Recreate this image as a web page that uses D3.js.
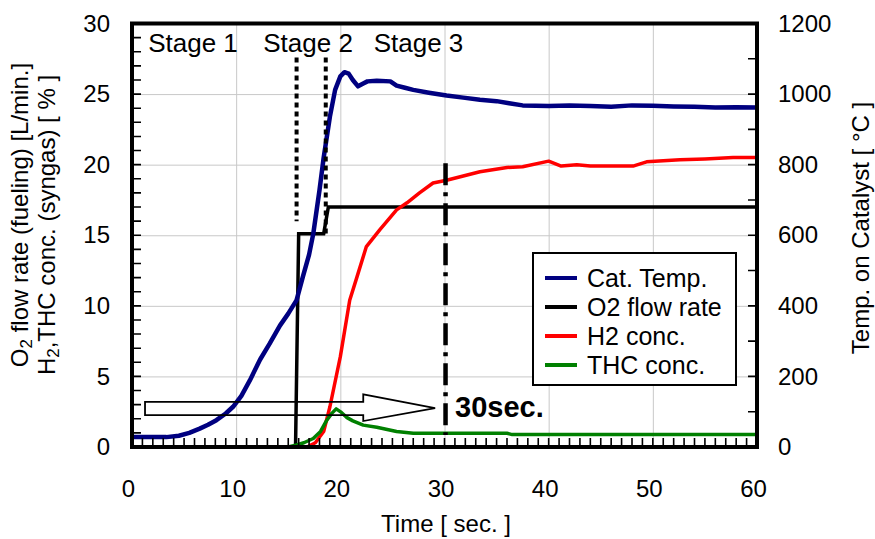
<!DOCTYPE html>
<html lang="en">
<head>
<meta charset="UTF-8">
<title>syngas start-up</title>
<style type="text/css">
	body { margin: 0; background: #fff; }
	svg text { font-family: "Liberation Sans", Arial, sans-serif; fill: #000; }
	.grid line { stroke: #c8c8c8; stroke-width: 1px; }
	.grid path, .lbl path { display: none; }
	.lbl text { font-size: 24px; }
</style>
</head>
<body>
<svg id="graph" width="875" height="539"></svg>

<script src="https://d3js.org/d3.v7.min.js"></script>
<script>
	"use strict";

	// time [sec], value
	var tempData = [[0,28],[2,28],[3.3,28],[4.5,32],[5.5,40],[6.5,52],[7.3,63],[8.1,76],[9,95],[9.7,114],
		[10.5,145],[11.3,188],[12.3,248],[13.2,292],[14.2,344],[15,378],[15.8,416],[16.4,482],[17,545],
		[17.4,604],[18,728],[18.4,820],[19,936],[19.5,1012],[20,1050],[20.4,1062],[20.8,1058],[21.2,1040],
		[21.7,1022],[22.2,1030],[22.6,1036],[23.5,1038],[24.8,1036],[25.4,1024],[26.2,1018],[27,1012],
		[28.5,1004],[30.2,996],[31.8,990],[33.4,984],[35,980],[36.2,974],[37.5,968],[40,966],[42,968],
		[44,966],[46,964],[48,968],[50,967],[52,965],[54,964],[56,962],[58,963],[60,962]];
	var o2Data = [[0,0],[15.7,0],[16.0,15.1],[18.4,15.1],[18.85,17.0],[60,17.0]];
	var h2Data = [[0,0],[16.8,0],[17.6,0.3],[18.4,1.1],[19,2.85],[20,6.4],[20.9,10.4],[21.6,12.05],
		[22.5,14.2],[23.8,15.4],[25.4,16.8],[26.4,17.3],[27.6,18.0],[28.9,18.7],[30.2,18.9],[31.8,19.2],
		[33.4,19.5],[36,19.8],[37.5,19.85],[40,20.25],[41.2,19.9],[42.7,20.0],[44,19.9],[48.1,19.9],
		[49.4,20.2],[52.6,20.35],[55,20.4],[57.7,20.5],[60,20.5]];
	var thcData = [[0,0],[15,0],[15.8,0.14],[16.5,0.3],[17.4,0.6],[18.1,1.1],[18.7,1.9],[19.2,2.4],
		[19.6,2.7],[20.1,2.45],[20.6,2.1],[21.2,1.85],[22.2,1.55],[23.5,1.4],[25.4,1.1],[27,0.97],
		[30,0.97],[36,0.97],[36.5,0.88],[60,0.88]];

	var seriesNames = ["Cat. Temp.", "O2 flow rate", "H2 conc.", "THC conc."];
	var seriesColors = ["#000080", "#000000", "#ff0000", "#008000"];

	var xTicks = [0,10,20,30,40,50,60];
	var yTicks = [0,5,10,15,20,25,30];
	var y2Ticks = [0,200,400,600,800,1000,1200];

	// annotations (time / left-axis units)
	var stageLabels = [["Stage 1",1.55],["Stage 2",12.6],["Stage 3",23.2]];
	var stageMarks = [[15.8,16.0,27.6],[18.6,15.1,27.6]];
	var markTime = [30.1, 0.85, 20.1];
	var arrowPts = [[1.25,3.2],[22.2,3.2],[22.2,3.73],[29.1,2.75],[22.2,1.84],[22.2,2.26],[1.25,2.26]];

	var L = 132, R = 757, T = 23.5, B = 447;
	var svg = d3.select("#graph");

	var x = d3.scaleLinear().domain([0,60]).range([L,R]);
	var y = d3.scaleLinear().domain([0,30]).range([B,T]);
	var y2 = d3.scaleLinear().domain([0,1200]).range([B,T]);

	// grid
	svg.append("g").attr("class","grid").attr("transform","translate(0,"+B+")")
	  .call(d3.axisBottom(x).tickValues(xTicks.slice(1,-1)).tickSize(-(B-T)).tickFormat(""));
	svg.append("g").attr("class","grid").attr("transform","translate("+L+",0)")
	  .call(d3.axisLeft(y).tickValues(yTicks.slice(1,-1)).tickSize(-(R-L)).tickFormat(""));

	// series
	var line = d3.line().x(function(d){return x(d[0]);}).y(function(d){return y(d[1]);});
	var line2 = d3.line().x(function(d){return x(d[0]);}).y(function(d){return y2(d[1]);});

	svg.append("path").datum(o2Data).attr("d",line)
	  .attr("fill","none").attr("stroke",seriesColors[1]).attr("stroke-width",3.5);
	svg.append("path").datum(h2Data).attr("d",line)
	  .attr("fill","none").attr("stroke",seriesColors[2]).attr("stroke-width",3.5).attr("stroke-linejoin","round");
	svg.append("path").datum(thcData).attr("d",line)
	  .attr("fill","none").attr("stroke",seriesColors[3]).attr("stroke-width",3.5).attr("stroke-linejoin","round");
	svg.append("path").datum(tempData).attr("d",line2)
	  .attr("fill","none").attr("stroke",seriesColors[0]).attr("stroke-width",4.5).attr("stroke-linejoin","round");

	// frame
	svg.append("rect").attr("x",L).attr("y",T).attr("width",R-L).attr("height",B-T)
	  .attr("fill","none").attr("stroke","#000").attr("stroke-width",4);

	// minor ticks inside the frame, one path
	var tickPath = "";
	d3.range(1,30,1).forEach(function(v){ tickPath += "M"+L+","+y(v)+"h9"; });
	d3.range(1,60,1).forEach(function(v){ tickPath += "M"+x(v)+","+B+"v-9"; });
	d3.range(100,1200,100).forEach(function(v){ tickPath += "M"+R+","+y2(v)+"h-9"; });
	svg.append("path").attr("d",tickPath).attr("fill","none")
	  .attr("stroke","#000").attr("stroke-width",1.6);

	// tick labels
	svg.append("g").attr("class","lbl").attr("transform","translate("+L+",0)")
	  .call(d3.axisLeft(y).tickValues(yTicks).tickSize(0).tickPadding(22).tickFormat(d3.format("d")));
	svg.append("g").attr("class","lbl").attr("transform","translate("+R+",0)")
	  .call(d3.axisRight(y2).tickValues(y2Ticks).tickSize(0).tickPadding(21).tickFormat(d3.format("d")));
	svg.append("g").attr("class","lbl").attr("transform","translate(-4,"+B+")")
	  .call(d3.axisBottom(x).tickValues(xTicks).tickSize(0).tickPadding(33).tickFormat(d3.format("d")));

	// stage marks
	svg.selectAll("line.stage").data(stageMarks).enter().append("line")
	  .attr("x1",function(d){return x(d[0]);}).attr("x2",function(d){return x(d[0]);})
	  .attr("y1",function(d){return y(d[2]);}).attr("y2",function(d){return y(d[1]);})
	  .attr("stroke","#000").attr("stroke-width",4).attr("stroke-dasharray","5,4");
	svg.selectAll("text.stagelbl").data(stageLabels).enter().append("text")
	  .attr("x",function(d){return x(d[1]);}).attr("y",52)
	  .style("font-size","26px").text(function(d){return d[0];});

	svg.append("line").attr("x1",x(markTime[0])).attr("x2",x(markTime[0]))
	  .attr("y1",y(markTime[2])).attr("y2",y(markTime[1]))
	  .attr("stroke","#000").attr("stroke-width",4.5).attr("stroke-dasharray","22,7,4,7");

	svg.append("path").datum(arrowPts)
	  .attr("d",function(d){return line(d)+"Z";})
	  .attr("fill","none").attr("stroke","#000").attr("stroke-width",1.8);
	svg.append("text").attr("x",455).attr("y",417)
	  .style("font-size","29px").style("font-weight","bold").text("30sec.");

	// legend
	var lg = svg.append("g");
	lg.append("rect").attr("x",533).attr("y",253).attr("width",203).attr("height",132)
	  .attr("fill","#fff").attr("stroke","#000").attr("stroke-width",2);
	var items = lg.selectAll("g.item").data(seriesNames).enter().append("g")
	  .attr("transform",function(d,i){return "translate(0,"+(278+i*29)+")";});
	items.append("line").attr("x1",545).attr("x2",577)
	  .attr("stroke",function(d,i){return seriesColors[i];}).attr("stroke-width",4);
	items.append("text").attr("x",587).attr("dy","0.35em").style("font-size","25px")
	  .text(function(d){return d;});

	// axis titles
	svg.append("text").attr("x",446).attr("y",532).attr("text-anchor","middle")
	  .style("font-size","24px").text("Time [ sec. ]");

	var t1 = svg.append("text").attr("transform","translate(28,215) rotate(-90)")
	  .attr("text-anchor","middle").style("font-size","24px");
	t1.append("tspan").text("O");
	t1.append("tspan").attr("dy",4).style("font-size","17px").text("2");
	t1.append("tspan").attr("dy",-4).text(" flow rate (fueling) [L/min.]");

	var t2 = svg.append("text").attr("transform","translate(55,225) rotate(-90)")
	  .attr("text-anchor","middle").style("font-size","24px");
	t2.append("tspan").text("H");
	t2.append("tspan").attr("dy",4).style("font-size","17px").text("2");
	t2.append("tspan").attr("dy",-4).text(",THC conc. (syngas) [ % ]");

	svg.append("text").attr("transform","translate(869,228) rotate(-90)")
	  .attr("text-anchor","middle").style("font-size","24px").text("Temp. on Catalyst [ °C ]");
</script>
</body>
</html>
